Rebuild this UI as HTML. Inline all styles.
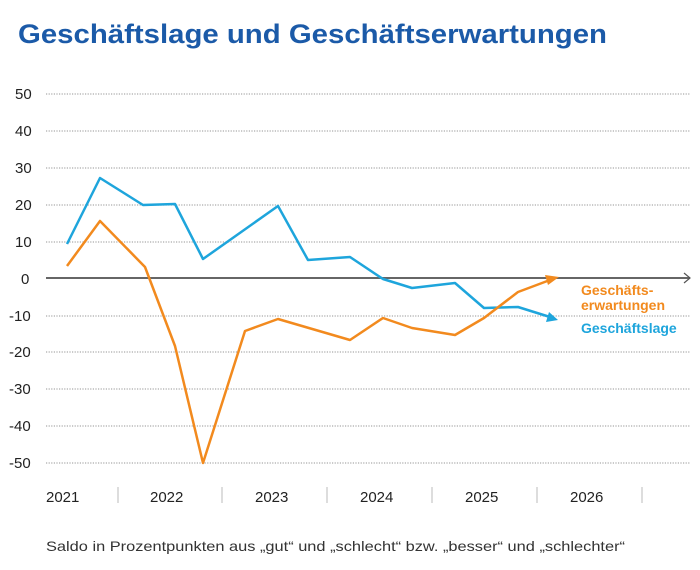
<!DOCTYPE html>
<html><head><meta charset="utf-8"><style>
body{margin:0;background:#fff;width:700px;height:565px;overflow:hidden;font-family:"Liberation Sans",sans-serif}
</style></head><body>
<svg width="700" height="565" xmlns="http://www.w3.org/2000/svg" font-family="Liberation Sans, sans-serif">
<text x="18" y="43" font-size="27" font-weight="bold" fill="#1b5aa8" textLength="589" lengthAdjust="spacingAndGlyphs">Geschäftslage und Geschäftserwartungen</text>
<g stroke="#aaa" stroke-width="1.3" stroke-dasharray="1.2 1.4">
<line x1="46" x2="690" y1="94" y2="94"/><line x1="46" x2="690" y1="131" y2="131"/>
<line x1="46" x2="690" y1="168" y2="168"/><line x1="46" x2="690" y1="205" y2="205"/>
<line x1="46" x2="690" y1="242" y2="242"/><line x1="46" x2="690" y1="316" y2="316"/>
<line x1="46" x2="690" y1="352" y2="352"/><line x1="46" x2="690" y1="389" y2="389"/>
<line x1="46" x2="690" y1="426" y2="426"/><line x1="46" x2="690" y1="463" y2="463"/>
</g>
<line x1="46" x2="690" y1="278" y2="278" stroke="#666" stroke-width="2"/>
<polyline points="684,273 690,278 684,283" fill="none" stroke="#555" stroke-width="1.2"/>
<g font-size="15" fill="#222">
<text x="15" y="99">50</text><text x="15" y="136">40</text><text x="15" y="173">30</text>
<text x="15" y="210">20</text><text x="15" y="247">10</text><text x="21" y="284">0</text>
<text x="9" y="321">-10</text><text x="9" y="357">-20</text><text x="9" y="394">-30</text>
<text x="9" y="431">-40</text><text x="9" y="468">-50</text>
<text x="46" y="502">2021</text><text x="150" y="502">2022</text><text x="255" y="502">2023</text>
<text x="360" y="502">2024</text><text x="465" y="502">2025</text><text x="570" y="502">2026</text>
</g>
<g stroke="#bbb" stroke-width="1">
<line x1="118" x2="118" y1="487" y2="503"/><line x1="222" x2="222" y1="487" y2="503"/>
<line x1="327" x2="327" y1="487" y2="503"/><line x1="432" x2="432" y1="487" y2="503"/>
<line x1="537" x2="537" y1="487" y2="503"/><line x1="642" x2="642" y1="487" y2="503"/>
</g>
<polyline fill="none" stroke="#1ea5dc" stroke-width="2.5" stroke-linejoin="round" points="67,244 100,178 143,205 175,204 203,259 278,206 308,260 350,257 383,279 412,288 455,283 484,308 518,307 550,317"/>
<polygon points="558,320 546,322 549,312" fill="#1ea5dc"/>
<polyline fill="none" stroke="#f28a1e" stroke-width="2.5" stroke-linejoin="round" points="67,266 100,221 145,267 175,346 203,463 245,331 278,319 350,340 383,318 412,328 455,335 484,318 518,292 550,280"/>
<polygon points="559,277 548,285 545,275" fill="#f28a1e"/>
<g font-size="14" font-weight="bold">
<text x="581" y="295" fill="#f28a1e">Geschäfts-</text>
<text x="581" y="310" fill="#f28a1e">erwartungen</text>
<text x="581" y="333" fill="#1ea5dc">Geschäftslage</text>
</g>
<text x="46" y="551" font-size="14" fill="#333" textLength="579" lengthAdjust="spacingAndGlyphs">Saldo in Prozentpunkten aus „gut“ und „schlecht“ bzw. „besser“ und „schlechter“</text>
</svg>
</body></html>
